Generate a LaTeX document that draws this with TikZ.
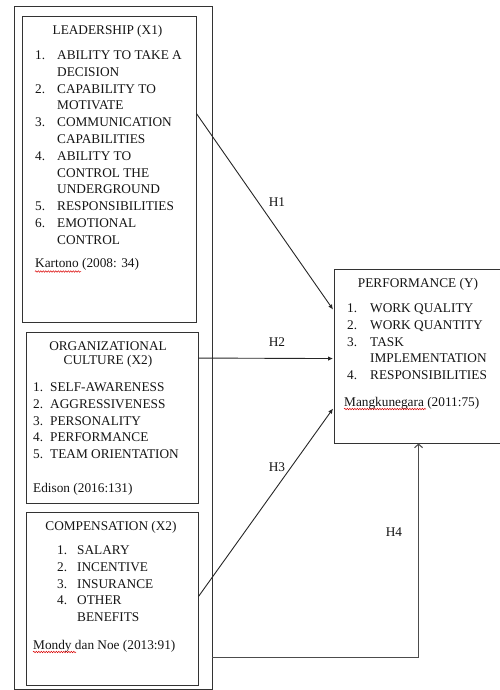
\documentclass[tikz,border=0pt]{standalone}
\usepackage{fontspec}
\setmainfont{Liberation Serif}
\usetikzlibrary{arrows.meta,calc,decorations.pathmorphing}
\tikzset{
  box/.style={draw=black!80, line width=0.9pt, inner sep=0pt, fill=none},
  txt/.style={inner sep=0pt, text=black!92, font=\fontsize{13.3}{16.8}\selectfont},
  conn/.style={draw=black!85, line width=0.9pt, -{Latex[length=5pt,width=4.5pt]}},
  conn4/.style={draw=black!70, line width=1.1pt, -{Straight Barb[length=3.5pt,width=8pt]}},
  squig/.style={red!85!black, line width=0.5pt, decorate, decoration={snake, amplitude=0.7pt, segment length=2.5pt}},
}
\begin{document}
\begin{tikzpicture}[x=1pt,y=-1pt]
\useasboundingbox (0,0) rectangle (500,690);
% boxes
\node[box, minimum width=198, minimum height=683] (outer) at (113,347.5) {};
\node[box, minimum width=174, minimum height=306] (lead) at (109,169) {};
\node[box, minimum width=172, minimum height=171] (org) at (112,417.5) {};
\node[box, minimum width=172, minimum height=173] (comp) at (112,598.5) {};
\node[box, minimum width=171, minimum height=174] (perf) at (419.5,356) {};
% leadership
\node[txt, anchor=base] (leadt) at (107.5,34.5) {LEADERSHIP (X1)};
\node[txt, anchor=base west] (leadl) at (35,59.5) {\begin{tabular}[t]{@{}p{22pt}@{}l@{}}
1. & ABILITY TO TAKE A\\
   & DECISION\\
2. & CAPABILITY TO\\
   & MOTIVATE\\
3. & COMMUNICATION\\
   & CAPABILITIES\\
4. & ABILITY TO\\
   & CONTROL THE\\
   & UNDERGROUND\\
5. & RESPONSIBILITIES\\
6. & EMOTIONAL\\
   & CONTROL
\end{tabular}};
\node[txt, anchor=base west] (leadc) at (35,267.5) {Kartono (2008: 34)};
\draw[squig] (35,271.5) -- (81,271.5);
% organizational culture
\node[txt, anchor=base] (orgt1) at (108,350) {ORGANIZATIONAL};
\node[txt, anchor=base] (orgt2) at (108,364.5) {CULTURE (X2)};
\node[txt, anchor=base west] (orgl) at (33,391.5) {\begin{tabular}[t]{@{}p{17pt}@{}l@{}}
1. & SELF-AWARENESS\\
2. & AGGRESSIVENESS\\
3. & PERSONALITY\\
4. & PERFORMANCE\\
5. & TEAM ORIENTATION
\end{tabular}};
\node[txt, anchor=base west] (orgc) at (33,492.5) {Edison (2016:131)};
% compensation
\node[txt, anchor=base] (compt) at (111,530.5) {COMPENSATION (X2)};
\node[txt, anchor=base west] (compl) at (57,554.5) {\begin{tabular}[t]{@{}p{20pt}@{}l@{}}
1. & SALARY\\
2. & INCENTIVE\\
3. & INSURANCE\\
4. & OTHER\\
   & BENEFITS
\end{tabular}};
\node[txt, anchor=base west] (compc) at (33,649.5) {Mondy dan Noe (2013:91)};
\draw[squig] (33,652) -- (76,652);
% performance
\node[txt, anchor=base] (perft) at (418,287.5) {PERFORMANCE (Y)};
\node[txt, anchor=base west] (perfl) at (347,312.5) {\begin{tabular}[t]{@{}p{23pt}@{}l@{}}
1. & WORK QUALITY\\
2. & WORK QUANTITY\\
3. & TASK\\
   & IMPLEMENTATION\\
4. & RESPONSIBILITIES
\end{tabular}};
\node[txt, anchor=base west] (perfc) at (344,406.5) {Mangkunegara (2011:75)};
\draw[squig] (344,409) -- (426,409);
% connectors
\draw[conn] ($(lead.north east)+(0,98)$) -- ($(perf.north west)+(-0.5,41)$);
\draw[conn] ($(org.north east)+(0,26.5)$) -- ($(perf.north west)+(-0.5,90)$);
\draw[conn] ($(comp.north east)+(0,85)$) -- ($(perf.north west)+(-0.5,140)$);
\draw[conn4] ($(outer.north east)+(0,652)$) -| ($(perf.south west)+(85,0)$);
% labels
\node[txt] (h1) at (277,202) {H1};
\node[txt] (h2) at (277,342) {H2};
\node[txt] (h3) at (277,467) {H3};
\node[txt] (h4) at (394,532) {H4};
\end{tikzpicture}
\end{document}
